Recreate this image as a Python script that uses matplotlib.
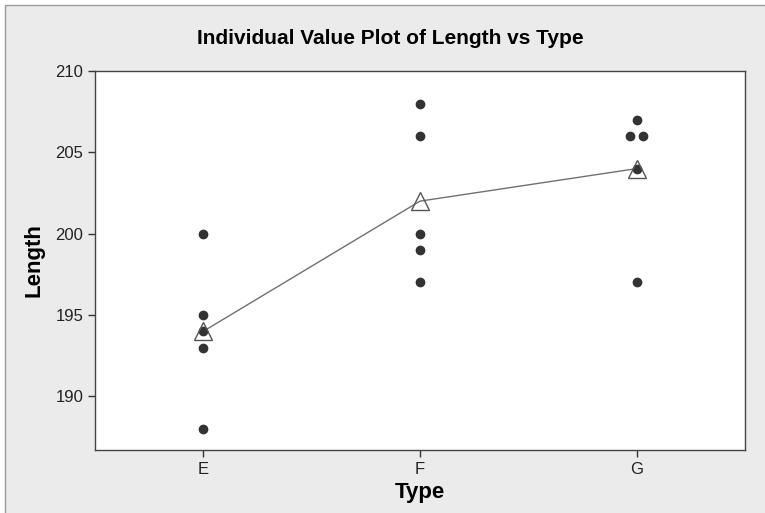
import numpy as np
import matplotlib.pyplot as plt
from matplotlib.patches import Rectangle

types = ['E', 'F', 'G']
length_e = [188, 193, 194, 195, 200]
length_f = [197, 199, 200, 206, 208]
length_g = [197, 204, 206, 206, 207]
# small horizontal offsets for tied values (like Minitab's dot spread)
offset_g = [0, 0, -0.03, 0.03, 0]

plt.rcParams['font.family'] = ['Liberation Sans Narrow', 'Liberation Sans', 'DejaVu Sans']

fig = plt.figure(figsize=(7.65, 5.13), dpi=100)
fig.patch.set_facecolor('white')
fig.patches.append(Rectangle((5 / 765, -0.1), 1.2, 1 - 5 / 513 + 0.1, transform=fig.transFigure,
                             facecolor='#ebebeb', edgecolor='#9a9a9a', linewidth=1.0, zorder=-10))

ax = fig.add_axes([95 / 765, 1 - 450 / 513, 650 / 765, 379 / 513])
groups = [length_e, length_f, length_g]
offsets = [[0] * 5, [0] * 5, offset_g]
for i, (vals, off) in enumerate(zip(groups, offsets)):
    xs = np.full(len(vals), i + 1.0) + np.array(off)
    ax.plot(xs, vals, 'o', color='#333333', markersize=6, zorder=3)

means = [np.mean(g) for g in groups]
ax.plot([1, 2, 3], means, '-', color='#707070', linewidth=1.0, zorder=2)
ax.plot([1, 2, 3], means, '^', markerfacecolor='none', markeredgecolor='#555555',
        markersize=13, markeredgewidth=1.0, zorder=4)

ax.set_xlim(0.5, 3.5)
ax.set_ylim(186.7, 210)
ax.set_xticks([1, 2, 3])
ax.set_xticklabels(types)
ax.set_yticks([190, 195, 200, 205, 210])
ax.tick_params(direction='out', length=5, width=1, color='#333333', labelsize=12, labelcolor='#222222')
for s in ax.spines.values():
    s.set_color('#444444')
    s.set_linewidth(1.0)

ax.set_xlabel('Type', fontsize=16, fontweight='bold', labelpad=4)
ax.set_ylabel('Length', fontsize=16, fontweight='bold', labelpad=8)
fig.text(0.51, 1 - 39 / 513, 'Individual Value Plot of Length vs Type', ha='center', va='center',
         fontsize=15, fontweight='bold')

fig.savefig('out.png', dpi=100)
